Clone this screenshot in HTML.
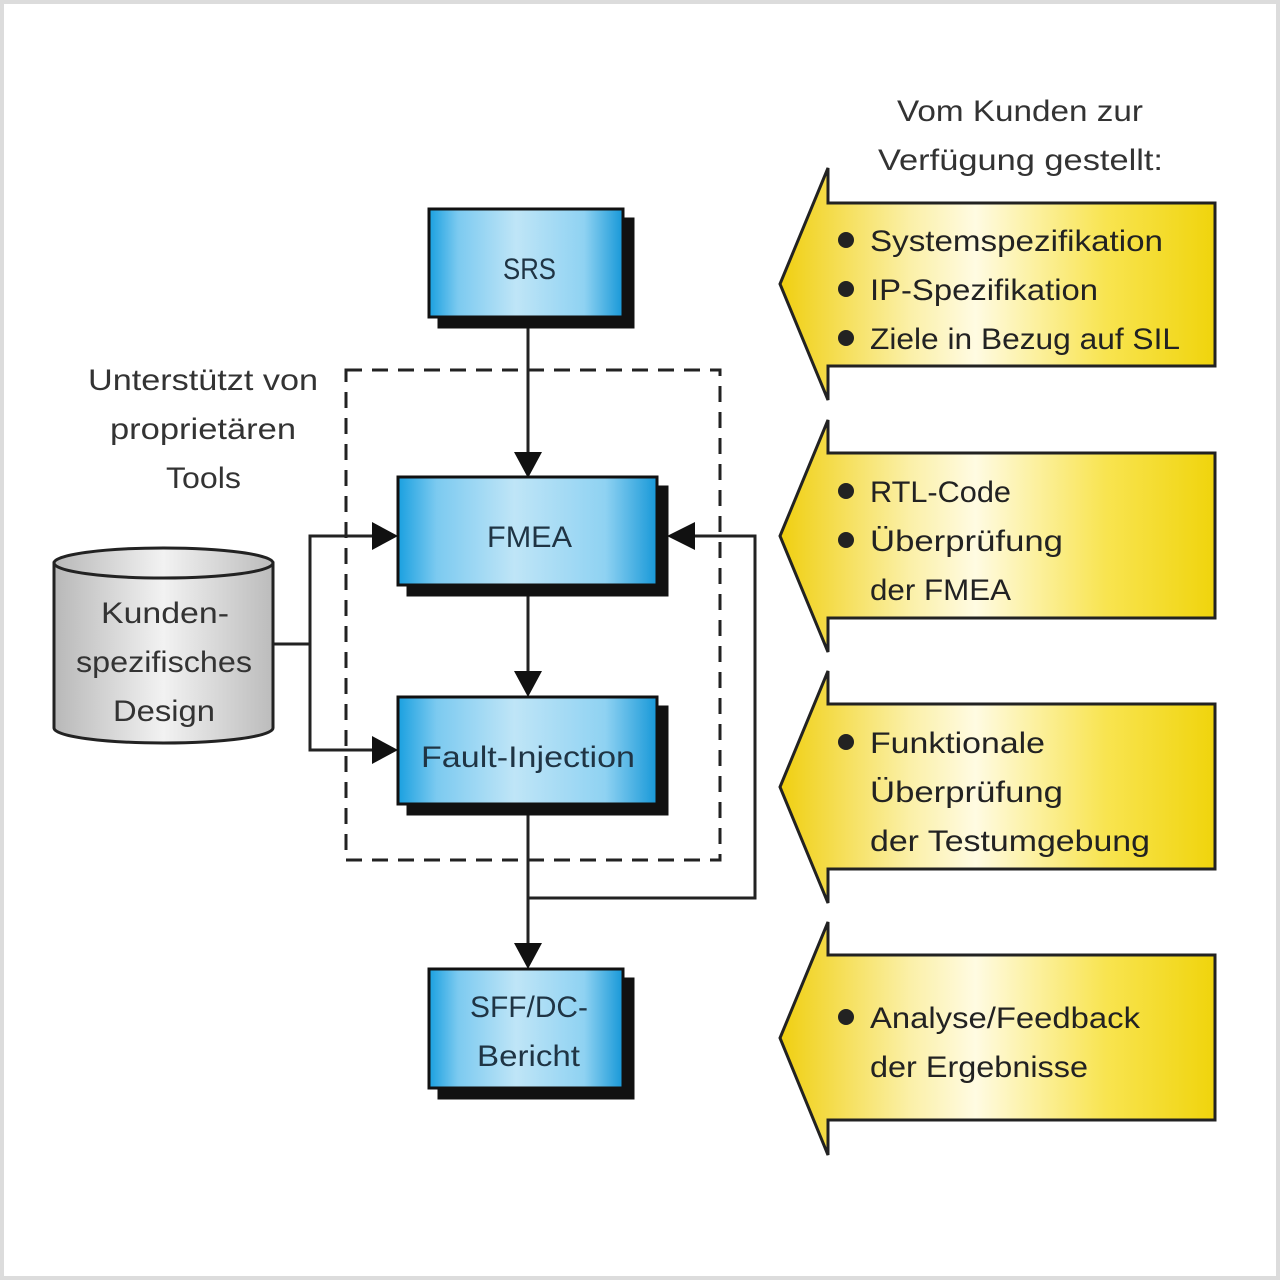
<!DOCTYPE html>
<html><head><meta charset="utf-8"><style>
html,body{margin:0;padding:0;background:#fff}
svg{display:block}
text{font-family:"Liberation Sans",sans-serif;}
</style></head><body>
<svg width="1280" height="1280" viewBox="0 0 1280 1280" xmlns="http://www.w3.org/2000/svg">
<defs>
<linearGradient id="blue" x1="0" x2="1" y1="0" y2="0">
<stop offset="0" stop-color="#1aa0e0"/><stop offset="0.15" stop-color="#7ccaf0"/>
<stop offset="0.45" stop-color="#bfe5f7"/><stop offset="0.8" stop-color="#8fd2f2"/>
<stop offset="1" stop-color="#1798d8"/></linearGradient>
<linearGradient id="gray" x1="0" x2="1" y1="0" y2="0">
<stop offset="0" stop-color="#b8b8b8"/><stop offset="0.5" stop-color="#f2f2f2"/>
<stop offset="1" stop-color="#bcbcbc"/></linearGradient>
<linearGradient id="yel" x1="0" x2="1" y1="0" y2="0">
<stop offset="0" stop-color="#f0cf10"/><stop offset="0.3" stop-color="#fbf0a8"/>
<stop offset="0.45" stop-color="#fffbe2"/><stop offset="0.75" stop-color="#f8e450"/>
<stop offset="1" stop-color="#f0d40c"/></linearGradient>
</defs>
<rect x="2" y="2" width="1276" height="1276" fill="#fff" stroke="#dcdcdc" stroke-width="4"/>

<g stroke="#222" stroke-width="3" fill="url(#yel)">
<polygon points="780,284 828,168 828,203 1215,203 1215,366 828,366 828,400"/>
<polygon points="780,536 828,420 828,453 1215,453 1215,618 828,618 828,652"/>
<polygon points="780,787 828,671 828,704 1215,704 1215,869 828,869 828,903"/>
<polygon points="780,1038 828,922 828,955 1215,955 1215,1120 828,1120 828,1155"/>
</g>
<g fill="#222" font-size="30" lengthAdjust="spacingAndGlyphs">
<text x="897" y="121" textLength="246" lengthAdjust="spacingAndGlyphs" fill="#333">Vom Kunden zur</text>
<text x="878" y="170" textLength="285" lengthAdjust="spacingAndGlyphs" fill="#333">Verfügung gestellt:</text>
<circle cx="846" cy="240" r="8"/><circle cx="846" cy="289" r="8"/><circle cx="846" cy="338" r="8"/>
<text x="870" y="251" textLength="293" lengthAdjust="spacingAndGlyphs">Systemspezifikation</text>
<text x="870" y="300" textLength="228" lengthAdjust="spacingAndGlyphs">IP-Spezifikation</text>
<text x="870" y="349" textLength="310" lengthAdjust="spacingAndGlyphs">Ziele in Bezug auf SIL</text>
<circle cx="846" cy="491" r="8"/><circle cx="846" cy="540" r="8"/>
<text x="870" y="502" textLength="141" lengthAdjust="spacingAndGlyphs">RTL-Code</text>
<text x="870" y="551" textLength="193" lengthAdjust="spacingAndGlyphs">Überprüfung</text>
<text x="870" y="600" textLength="141" lengthAdjust="spacingAndGlyphs">der FMEA</text>
<circle cx="846" cy="742" r="8"/>
<text x="870" y="753" textLength="175" lengthAdjust="spacingAndGlyphs">Funktionale</text>
<text x="870" y="802" textLength="193" lengthAdjust="spacingAndGlyphs">Überprüfung</text>
<text x="870" y="851" textLength="280" lengthAdjust="spacingAndGlyphs">der Testumgebung</text>
<circle cx="846" cy="1017" r="8"/>
<text x="870" y="1028" textLength="270" lengthAdjust="spacingAndGlyphs">Analyse/Feedback</text>
<text x="870" y="1077" textLength="218" lengthAdjust="spacingAndGlyphs">der Ergebnisse</text>
</g>

<rect x="346" y="370" width="374" height="490" fill="none" stroke="#222" stroke-width="3" stroke-dasharray="16,10"/>

<g stroke="#222" stroke-width="3" fill="none">
<line x1="528" y1="327" x2="528" y2="455"/>
<line x1="528" y1="595" x2="528" y2="674"/>
<line x1="528" y1="814" x2="528" y2="946"/>
<polyline points="528,898 755,898 755,536 690,536"/>
<polyline points="274,644 310,644"/>
<polyline points="376,536 310,536 310,750 376,750"/>
</g>
<g fill="#111">
<polygon points="514,452 542,452 528,478"/>
<polygon points="514,671 542,671 528,697"/>
<polygon points="514,943 542,943 528,969"/>
<polygon points="372,522 372,550 398,536"/>
<polygon points="372,736 372,764 398,750"/>
<polygon points="695,522 695,550 667,536"/>
</g>

<g stroke="#111" stroke-width="3">
<rect x="439" y="219" width="194" height="108" fill="#111"/>
<rect x="429" y="209" width="194" height="108" fill="url(#blue)"/>
<rect x="408" y="487" width="259" height="108" fill="#111"/>
<rect x="398" y="477" width="259" height="108" fill="url(#blue)"/>
<rect x="408" y="707" width="259" height="107" fill="#111"/>
<rect x="398" y="697" width="259" height="107" fill="url(#blue)"/>
<rect x="439" y="979" width="194" height="119" fill="#111"/>
<rect x="429" y="969" width="194" height="119" fill="url(#blue)"/>
</g>
<g fill="#1f3444" font-size="30">
<text x="503" y="279" textLength="53" lengthAdjust="spacingAndGlyphs">SRS</text>
<text x="487" y="547" textLength="85" lengthAdjust="spacingAndGlyphs">FMEA</text>
<text x="421" y="767" textLength="214" lengthAdjust="spacingAndGlyphs">Fault-Injection</text>
<text x="470" y="1017" textLength="118" lengthAdjust="spacingAndGlyphs">SFF/DC-</text>
<text x="477" y="1066" textLength="103" lengthAdjust="spacingAndGlyphs">Bericht</text>
</g>

<path d="M54,563 L54,728 A109.5,15 0 0 0 273,728 L273,563 Z" fill="url(#gray)" stroke="#222" stroke-width="3"/>
<ellipse cx="163.5" cy="563" rx="109.5" ry="15" fill="url(#gray)" stroke="#222" stroke-width="3"/>
<g fill="#333" font-size="30">
<text x="101" y="623" textLength="128" lengthAdjust="spacingAndGlyphs">Kunden-</text>
<text x="76" y="672" textLength="176" lengthAdjust="spacingAndGlyphs">spezifisches</text>
<text x="113" y="721" textLength="102" lengthAdjust="spacingAndGlyphs">Design</text>
<text x="88" y="390" textLength="230" lengthAdjust="spacingAndGlyphs">Unterstützt von</text>
<text x="110" y="439" textLength="186" lengthAdjust="spacingAndGlyphs">proprietären</text>
<text x="166" y="488" textLength="75" lengthAdjust="spacingAndGlyphs">Tools</text>
</g>
</svg>
</body></html>
